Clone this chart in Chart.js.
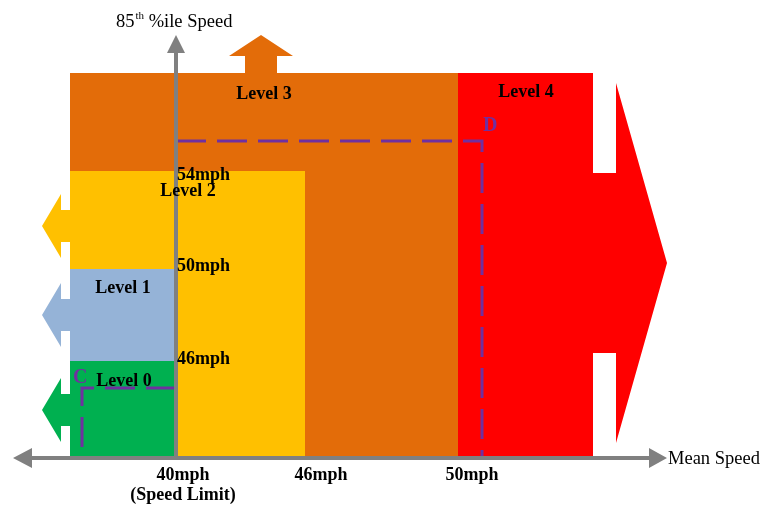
<!DOCTYPE html>
<html lang="en">
<head>
<meta charset="UTF-8">
<title>Speed Levels</title>
<style>
    body { margin: 0; background: #fff; }
    #wrap { width: 763px; height: 506px; }
    canvas { display: block; }
</style>
</head>
<body>
<div id="wrap"><canvas id="levels" width="763" height="506"></canvas></div>
<script src="https://cdn.jsdelivr.net/npm/chart.js"></script>
<script>
// diagram units: origin where the speed limit line meets the mean speed axis
const levelNames = ['Level 0', 'Level 1', 'Level 2', 'Level 3', 'Level 4'];
const meanSpeedTicks = [['40mph', '(Speed Limit)'], ['46mph'], ['50mph']];
const meanSpeedEdges = [0, 129, 282];
const p85Ticks = ['46mph', '50mph', '54mph'];
const p85Edges = [97, 189, 287];
const pointC = [-94, 70];
const pointD = [306, 317];

// layout / style
const levelColors = ['#00B050', '#95B3D7', '#FFC000', '#E36C09', '#FF0000'];
const AXIS = '#808080';
const PURPLE = '#7030A0';
const LEFT = -106, TOP = 385, RED_RIGHT = 417;
const levelLabelPos = [[-52, 72], [-53, 165], [12, 262], [88, 359], [350, 361]];
const leftArrowY = [48, 143, 232];
const p85LabelNudge = [-3, -2, -9];
const meanLabelX = [7, 145, 296];

function leftArrow(cy) {
    const notch = LEFT - 9, tip = LEFT - 28;
    return [[LEFT, cy - 16], [notch, cy - 16], [notch, cy - 32], [tip, cy],
            [notch, cy + 32], [notch, cy + 16], [LEFT, cy + 16]];
}

const shapes = [
    // level 0
    [[LEFT, p85Edges[0]], [meanSpeedEdges[0], p85Edges[0]], [meanSpeedEdges[0], 0], [LEFT, 0], ...leftArrow(leftArrowY[0])],
    // level 1
    [[LEFT, p85Edges[1]], [meanSpeedEdges[0], p85Edges[1]], [meanSpeedEdges[0], p85Edges[0]], [LEFT, p85Edges[0]], ...leftArrow(leftArrowY[1])],
    // level 2
    [[meanSpeedEdges[1], p85Edges[2]], [meanSpeedEdges[1], 0], [meanSpeedEdges[0], 0], [meanSpeedEdges[0], p85Edges[1]],
     [LEFT, p85Edges[1]], ...leftArrow(leftArrowY[2]), [LEFT, p85Edges[2]]],
    // level 3 with the up arrow
    [[LEFT, p85Edges[2]], [LEFT, TOP], [69, TOP], [69, 402], [53, 402], [85, 423], [117, 402], [101, 402], [101, TOP],
     [meanSpeedEdges[2], TOP], [meanSpeedEdges[2], 0], [meanSpeedEdges[1], 0], [meanSpeedEdges[1], p85Edges[2]]],
    // level 4 with the right arrow
    [[meanSpeedEdges[2], 0], [meanSpeedEdges[2], TOP], [RED_RIGHT, TOP], [RED_RIGHT, 285], [440, 285], [440, 375],
     [491, 195], [440, 15], [440, 105], [RED_RIGHT, 105], [RED_RIGHT, 0]]
];

const pts = list => list.map(([x, y]) => ({ x, y }));

function shapeSet(list, color, order) {
    return { data: pts(list), backgroundColor: color, borderColor: 'transparent', borderWidth: 0,
             fill: 'shape', pointRadius: 0, tension: 0, order };
}
function lineSet(list, color, width, dash, order) {
    return { data: pts(list), borderColor: color, borderWidth: width, borderDash: dash,
             fill: false, pointRadius: 0, tension: 0, order, borderCapStyle: 'butt' };
}

const datasets = shapes.map((s, i) => shapeSet(s, levelColors[i], 5));
datasets.push(lineSet([[0, pointC[1]], pointC, [pointC[0], 10]], PURPLE, 3, [30, 11], 3));
datasets.push(lineSet([[0, pointD[1]], pointD, [pointD[0], 0]], PURPLE, 3, [30, 11], 3));
datasets.push(lineSet([[-150, 0], [475, 0]], AXIS, 4, [], 1));
datasets.push(lineSet([[0, 0], [0, 407]], AXIS, 4, [], 1));
datasets.push(shapeSet([[-163, 0], [-144, 10], [-144, -10]], AXIS, 1));
datasets.push(shapeSet([[491, 0], [473, 10], [473, -10]], AXIS, 1));
datasets.push(shapeSet([[0, 423], [-9, 405], [9, 405]], AXIS, 1));

const diagramText = {
    id: 'diagramText',
    afterDatasetsDraw(chart) {
        const { ctx, scales: { x, y } } = chart;
        const px = v => x.getPixelForValue(v);
        const py = v => y.getPixelForValue(v);
        ctx.save();
        ctx.textBaseline = 'alphabetic';
        ctx.fillStyle = '#000';
        ctx.font = 'bold 18px "Liberation Serif"';
        ctx.textAlign = 'center';
        levelNames.forEach((name, i) => ctx.fillText(name, px(levelLabelPos[i][0]), py(levelLabelPos[i][1])));
        meanSpeedTicks.forEach((lines, i) => {
            lines.forEach((t, j) => ctx.fillText(t, px(meanLabelX[i]), py(-22 - j * 20)));
        });
        ctx.textAlign = 'left';
        p85Ticks.forEach((t, i) => ctx.fillText(t, px(1), py(p85Edges[i] + p85LabelNudge[i])));

        ctx.fillStyle = PURPLE;
        ctx.font = 'bold 20px "Liberation Serif"';
        ctx.fillText('C', px(pointC[0] - 9), py(pointC[1] + 5));
        ctx.fillText('D', px(pointD[0] + 1), py(pointD[1] + 10));

        ctx.fillStyle = '#000';
        ctx.font = '18.5px "Liberation Serif"';
        ctx.fillText('Mean Speed', px(492), py(-6));
        let tx = px(-60);
        const ty = py(431);
        ctx.fillText('85', tx, ty);
        tx += ctx.measureText('85').width;
        ctx.font = '11px "Liberation Serif"';
        ctx.fillText('th', tx + 1, ty - 8);
        tx += ctx.measureText('th').width + 1;
        ctx.font = '18.5px "Liberation Serif"';
        ctx.fillText(' %ile Speed', tx, ty);
        ctx.restore();
    }
};

new Chart(document.getElementById('levels'), {
    type: 'line',
    data: { datasets },
    options: {
        responsive: false,
        animation: false,
        events: [],
        layout: { padding: 0 },
        plugins: { legend: { display: false }, tooltip: { enabled: false } },
        scales: {
            x: { type: 'linear', min: -176, max: 587, display: false },
            y: { type: 'linear', min: -48, max: 458, display: false }
        }
    },
    plugins: [diagramText]
});
</script>
</body>
</html>
